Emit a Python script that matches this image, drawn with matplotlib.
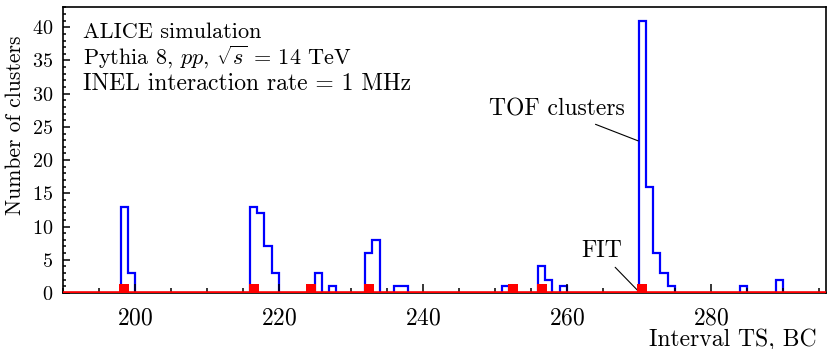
import matplotlib
matplotlib.use("Agg")
import matplotlib.pyplot as plt
from matplotlib.ticker import MultipleLocator
import numpy as np

plt.rcParams["font.family"] = "serif"
plt.rcParams["font.serif"] = ["cmr10"]
plt.rcParams["mathtext.fontset"] = "cm"
plt.rcParams["axes.formatter.use_mathtext"] = True

# TOF clusters per bunch-crossing bin (bins not listed are empty)
tof_bins = [198, 199, 216, 217, 218, 219, 225, 227, 232, 233, 236, 237,
            251, 256, 257, 259, 270, 271, 272, 273, 274, 284, 289]
tof_counts = [13, 3, 13, 12, 7, 3, 3, 1, 6, 8, 1, 1,
              1, 4, 2, 1, 41, 16, 6, 3, 1, 1, 2]
# FIT signals (bin index)
fit_bins = [198, 216, 224, 232, 252, 256, 270]

x_min, x_max = 190, 296
edges = np.arange(x_min, x_max + 1)
hist = np.zeros(len(edges) - 1)
for b, c in zip(tof_bins, tof_counts):
    hist[b - x_min] = c

fig = plt.figure(figsize=(8.28, 3.49), dpi=100)
ax = fig.add_axes([0.076, 0.1605, 0.9216, 0.8195])

ax.stairs(hist, edges, color="blue", lw=1.6)
ax.axhline(0, color="red", lw=2.6, zorder=3)
# square marker sitting on the baseline
sq = [(-1, 0), (1, 0), (1, 2), (-1, 2), (-1, 0)]
ax.plot(np.array(fit_bins) + 0.5, np.zeros(len(fit_bins)), ls="none", marker=sq,
        color="red", ms=13, mew=0, zorder=4)

ax.set_xlim(x_min, x_max)
ax.set_ylim(0, 41 * 1.05)
ax.xaxis.set_major_locator(MultipleLocator(20))
ax.xaxis.set_minor_locator(MultipleLocator(5))
ax.yaxis.set_major_locator(MultipleLocator(5))
ax.yaxis.set_minor_locator(MultipleLocator(1))
ax.tick_params(which="both", direction="in", top=False, right=False)
ax.tick_params(axis="x", which="major", length=6.5, width=1.1, labelsize=17, pad=10.5)
ax.tick_params(axis="x", which="minor", length=3.6, width=1.1)
ax.tick_params(axis="y", which="major", length=5, width=1.1, labelsize=14.5, pad=7)
ax.tick_params(axis="y", which="minor", length=2.5, width=1.1)
for s in ax.spines.values():
    s.set_linewidth(1.2)

ax.set_ylabel("Number of clusters", fontsize=15.5)
ax.yaxis.set_label_coords(-0.05, 0.585)
ax.set_xlabel("Interval TS, BC", fontsize=17, loc="right")
ax.xaxis.set_label_coords(0.988, -0.187)
ax.xaxis.label.set_va("baseline")

ax.text(0.026, 0.892, "ALICE simulation", transform=ax.transAxes, fontsize=16, va="baseline")
ax.text(0.026, 0.80, r"Pythia 8, $pp$, $\sqrt{s}$ = 14 TeV", transform=ax.transAxes,
        fontsize=16, va="baseline")
ax.text(0.026, 0.708, "INEL interaction rate = 1 MHz", transform=ax.transAxes,
        fontsize=17, va="baseline")

ax.annotate("TOF clusters", xy=(269.9, 22.9), xytext=(268.1, 27.7),
            fontsize=17, ha="right", va="center", annotation_clip=False,
            arrowprops=dict(arrowstyle="-", color="black", lw=0.8,
                            relpos=(0.7, 0), shrinkA=3, shrinkB=0))
ax.annotate("FIT", xy=(270, 0.2), xytext=(264.8, 6.4),
            fontsize=17, ha="center", va="center",
            arrowprops=dict(arrowstyle="-", color="black", lw=0.8,
                            relpos=(0.7, 0), shrinkA=3, shrinkB=0))

fig.savefig("out.png", dpi=100)
